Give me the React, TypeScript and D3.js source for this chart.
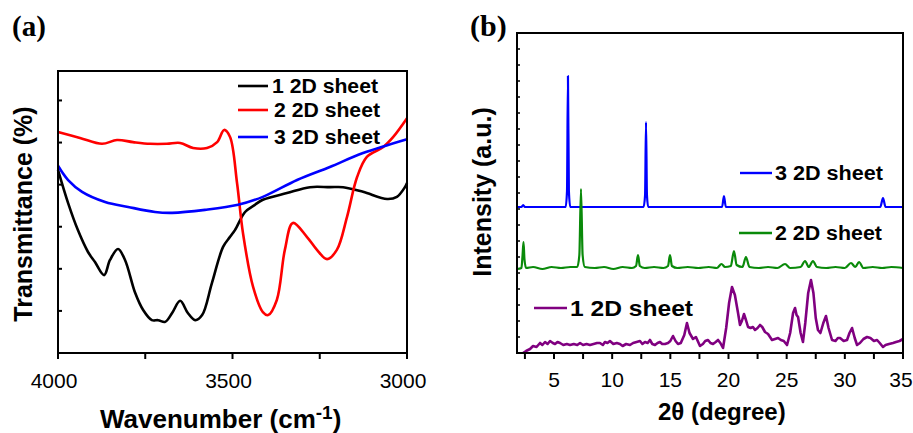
import React from 'react';
import * as d3 from 'd3';

// ---------- Panel (a): FTIR ----------
const ftirWn1 = [4000, 3971, 3943, 3914, 3894, 3868, 3851, 3828, 3808, 3779, 3756, 3731, 3713, 3693, 3673, 3650, 3628, 3607, 3587, 3559, 3527, 3507, 3493, 3464, 3436, 3413, 3344, 3278, 3221, 3183, 3126, 3057, 3029, 3006, 3000];
const ftirT1 = [43.5, 35.6, 29.2, 24.0, 21.6, 18.5, 22.1, 24.7, 22.1, 14.3, 10.2, 7.8, 7.8, 7.4, 9.5, 12.4, 9.5, 7.8, 9.0, 16.6, 25.2, 27.6, 29.2, 33.5, 35.2, 36.4, 38.0, 39.4, 39.4, 39.4, 38.3, 36.6, 37.1, 39.4, 40.4];

const ftirWn2 = [4000, 3937, 3874, 3831, 3785, 3736, 3688, 3650, 3613, 3573, 3544, 3524, 3507, 3487, 3470, 3441, 3413, 3398, 3373, 3350, 3327, 3287, 3258, 3229, 3201, 3172, 3143, 3115, 3069, 3040, 3000];
const ftirT2 = [52.5, 51.1, 49.7, 50.6, 50.1, 49.7, 49.7, 49.9, 48.7, 48.7, 50.1, 53.0, 51.3, 40.4, 28.5, 15.7, 9.7, 9.0, 12.6, 24.5, 30.9, 27.6, 24.5, 22.3, 24.5, 32.3, 41.8, 46.6, 48.9, 51.3, 55.8];

const ftirWn3 = [4000, 3971, 3931, 3865, 3799, 3722, 3673, 3579, 3484, 3413, 3315, 3221, 3126, 3000];
const ftirT3 = [44.5, 41.1, 38.3, 35.9, 34.7, 33.5, 33.3, 34.0, 35.2, 37.1, 41.1, 44.2, 47.5, 50.8];

const ftirXTicks = [4000, 3750, 3500, 3250, 3000];
const ftirXLabels = [4000, 3500, 3000];
const ftirYTicks = [10, 20, 30, 40, 50, 60];
const legendLabelsA = ['1 2D sheet', '2 2D sheet', '3 2D sheet'];

// ---------- Panel (b): XRD ----------
const xrdTh3 = [1.82, 2.2, 2.35, 2.5, 6.0, 6.12, 6.2, 6.28, 6.4, 12.7, 12.83, 12.91, 12.99, 13.1, 19.45, 19.61, 19.77, 33.05, 33.28, 33.5, 35];
const xrdI3 = [146, 146, 148, 146, 146, 162, 277, 162, 146, 146, 158, 231, 158, 146, 146, 157, 146, 146, 155, 146, 146];

const xrdTh2 = [1.82, 2.2, 2.3, 2.38, 2.46, 2.6, 3.2, 4.0, 4.8, 5.6, 6.4, 7.0, 7.18, 7.32, 7.46, 7.65, 8.5, 9.3, 10.1, 10.9, 11.7, 12.05, 12.22, 12.38, 12.8, 13.6, 14.4, 14.8, 14.97, 15.14, 15.6, 16.5, 17.4, 18.3, 19.0, 19.4, 19.7, 20.2, 20.47, 20.7, 21.2, 21.5, 21.8, 22.6, 23.4, 24.2, 24.86, 25.3, 26.2, 26.58, 26.9, 27.26, 27.6, 28.4, 29.2, 30.0, 30.53, 30.9, 31.22, 31.6, 32.4, 33.2, 34.0, 35];
const xrdI2 = [84, 85, 98, 111, 94, 85, 86, 84, 86, 85, 86, 86, 98, 164, 98, 86, 85, 86, 84, 86, 85, 87, 98, 87, 85, 86, 85, 87, 98, 87, 85, 86, 85, 86, 85, 89, 86, 87, 102, 88, 86, 96, 86, 85, 86, 85, 89, 85, 86, 92, 86, 92, 86, 85, 86, 85, 90, 86, 91, 85, 86, 85, 86, 85];

// [2θ, intensity] pairs for the 1 2D sheet pattern
const xrdSheet1: [number, number][] = [
  [2.34, 0], [2.6, 2], [2.94, 4], [3.2, 7], [3.5, 6], [3.8, 10], [4.0, 8], [4.23, 11], [4.45, 9], [4.66, 12],
  [4.9, 10], [5.09, 9], [5.3, 11], [5.52, 10], [5.8, 8], [6.1, 9], [6.38, 8], [6.7, 9], [7.0, 8], [7.24, 10],
  [7.5, 8], [7.8, 9], [8.09, 8], [8.4, 9], [8.7, 10], [8.95, 10], [9.2, 8], [9.38, 11], [9.6, 10], [9.81, 12],
  [10.1, 9], [10.4, 10], [10.67, 9], [10.9, 7], [11.2, 9], [11.53, 8], [11.8, 10], [12.1, 11], [12.39, 12], [12.6, 9],
  [12.82, 11], [13.05, 10], [13.25, 13], [13.45, 9], [13.68, 8], [13.9, 10], [14.11, 11], [14.3, 9], [14.54, 9], [14.8, 10],
  [15.0, 12], [15.23, 17], [15.45, 12], [15.66, 9], [15.9, 10], [16.2, 18], [16.43, 30], [16.65, 20], [16.95, 14], [17.2, 16],
  [17.55, 7], [17.8, 9], [18.0, 12], [18.24, 13], [18.45, 10], [18.67, 9], [18.9, 11], [19.1, 13], [19.3, 10], [19.53, 5],
  [19.8, 25], [20.05, 50], [20.3, 66], [20.55, 58], [20.82, 40], [20.99, 28], [21.15, 32], [21.33, 39], [21.5, 33], [21.68, 26],
  [21.9, 25], [22.1, 26], [22.28, 23], [22.5, 25], [22.71, 28], [22.9, 26], [23.14, 21], [23.4, 19], [23.74, 13], [24.0, 14],
  [24.26, 15], [24.5, 13], [24.75, 12], [25.03, 8], [25.3, 20], [25.55, 40], [25.72, 45], [25.85, 38], [25.98, 36], [26.2, 20],
  [26.4, 11], [26.6, 30], [26.85, 60], [27.09, 73], [27.3, 60], [27.5, 35], [27.69, 23], [27.9, 20], [28.15, 30], [28.38, 37],
  [28.6, 25], [28.9, 13], [29.2, 12], [29.4, 15], [29.59, 15], [29.9, 12], [30.19, 13], [30.4, 20], [30.62, 25], [30.85, 15],
  [31.05, 8], [31.3, 10], [31.6, 14], [31.91, 16], [32.2, 15], [32.5, 12], [32.77, 13], [33.0, 10], [33.28, 6], [33.5, 8],
  [33.8, 9], [34.14, 10], [34.4, 11], [34.7, 12], [35.0, 14],
];

const xrdXTicks = [2.5, 5, 7.5, 10, 12.5, 15, 17.5, 20, 22.5, 25, 27.5, 30, 32.5, 35];
const xrdXLabels = [5, 10, 15, 20, 25, 30, 35];
const xrdYTicks = d3.range(16, 320, 16);
const legendLabelsB = ['3 2D sheet', '2 2D sheet', '1 2D sheet'];

const SANS = "'Liberation Sans', Arial, Helvetica, sans-serif";
const SERIF = "'Liberation Serif', 'Times New Roman', serif";

export default function App() {
  const xA = d3.scaleLinear().domain([4000, 3000]).range([58, 407]);
  const yA = d3.scaleLinear().domain([0, 67]).range([353, 71]);
  const xB = d3.scaleLinear().domain([1.82, 35]).range([517, 903]);
  const yB = d3.scaleLinear().domain([0, 320]).range([353, 33]);

  const pathA = (xs: number[], ys: number[]) =>
    d3.line<number>()
      .x((_, i) => xA(xs[i]))
      .y((d) => yA(d))
      .curve(d3.curveCatmullRom.alpha(0.5))(ys) || '';
  const pathB = (xs: number[], ys: number[]) =>
    d3.line<number>()
      .x((_, i) => xB(xs[i]))
      .y((d) => yB(d))
      .curve(d3.curveMonotoneX)(ys) || '';
  const pathB1 =
    d3.line<[number, number]>()
      .x((d) => xB(d[0]))
      .y((d) => yB(d[1]))
      .curve(d3.curveLinear)(xrdSheet1) || '';

  const colorsA = ['#000000', '#ff0000', '#0000ff'];
  const seriesA = [
    { xs: ftirWn1, ys: ftirT1 },
    { xs: ftirWn2, ys: ftirT2 },
    { xs: ftirWn3, ys: ftirT3 },
  ];
  const legendA = [
    { lineY: 86, baseY: 93, lx1: 238, lx2: 268, tx: 272, tw: 106 },
    { lineY: 110, baseY: 117, lx1: 238, lx2: 268, tx: 274, tw: 106 },
    { lineY: 137, baseY: 144, lx1: 238, lx2: 268, tx: 274, tw: 106 },
  ];

  const colorsB = ['#0000ff', '#0a8a0a', '#800080'];
  const legendB = [
    { lineY: 173, baseY: 180, lx1: 740, lx2: 772, tx: 775, tw: 108, fs: 20 },
    { lineY: 233, baseY: 240, lx1: 739, lx2: 772, tx: 775, tw: 107, fs: 20 },
    { lineY: 308, baseY: 316, lx1: 534, lx2: 567, tx: 570, tw: 123, fs: 22 },
  ];

  return (
    <svg width={913} height={433} style={{ position: 'absolute', left: 0, top: 0, background: '#fff' }}>
      {/* ---------- Panel (a) ---------- */}
      <text x={12} y={36} fontFamily={SERIF} fontWeight="bold" fontSize={29}>(a)</text>
      {seriesA.map((s, i) => (
        <path key={i} d={pathA(s.xs, s.ys)} fill="none" stroke={colorsA[i]} strokeWidth={2.6} strokeLinejoin="round" />
      ))}
      <rect x={58} y={71} width={349} height={282} fill="none" stroke="#000" strokeWidth={2} />
      {ftirXTicks.map((t) => (
        <line key={t} x1={xA(t)} x2={xA(t)} y1={353} y2={359} stroke="#000" strokeWidth={2} />
      ))}
      {ftirYTicks.map((t) => (
        <line key={t} x1={58} x2={62} y1={yA(t)} y2={yA(t)} stroke="#000" strokeWidth={2} />
      ))}
      {ftirXLabels.map((t) => (
        <text key={t} x={xA(t) - 4} y={388} textAnchor="middle" fontFamily={SANS} fontSize={21}>{t}</text>
      ))}
      <text x={100} y={428} fontFamily={SANS} fontWeight="bold" fontSize={26}>
        Wavenumber (cm<tspan fontSize={19} dy={-9}>-1</tspan><tspan dy={9}>)</tspan>
      </text>
      <text transform="translate(32,214) rotate(-90)" textAnchor="middle" fontFamily={SANS} fontWeight="bold" fontSize={25}>
        Transmittance (%)
      </text>
      {legendA.map((l, i) => (
        <g key={i}>
          <line x1={l.lx1} x2={l.lx2} y1={l.lineY} y2={l.lineY} stroke={colorsA[i]} strokeWidth={2.6} />
          <text x={l.tx} y={l.baseY} fontFamily={SANS} fontWeight="bold" fontSize={20} textLength={l.tw} lengthAdjust="spacingAndGlyphs">
            {legendLabelsA[i]}
          </text>
        </g>
      ))}

      {/* ---------- Panel (b) ---------- */}
      <text x={470} y={36} fontFamily={SERIF} fontWeight="bold" fontSize={30}>(b)</text>
      <path d={pathB(xrdTh3, xrdI3)} fill="none" stroke={colorsB[0]} strokeWidth={2.2} strokeLinejoin="round" />
      <path d={pathB(xrdTh2, xrdI2)} fill="none" stroke={colorsB[1]} strokeWidth={2.2} strokeLinejoin="round" />
      <path d={pathB1} fill="none" stroke={colorsB[2]} strokeWidth={2.6} strokeLinejoin="round" />
      <rect x={517} y={33} width={386} height={320} fill="none" stroke="#000" strokeWidth={2} />
      {xrdXTicks.map((t) => (
        <line key={t} x1={xB(t)} x2={xB(t)} y1={353} y2={359} stroke="#000" strokeWidth={2} />
      ))}
      {xrdYTicks.map((t) => (
        <line key={t} x1={517} x2={520} y1={yB(t)} y2={yB(t)} stroke="#000" strokeWidth={1.5} />
      ))}
      {xrdXLabels.map((t) => (
        <text key={t} x={t === 35 ? xB(t) - 2 : xB(t)} y={387} textAnchor="middle" fontFamily={SANS} fontSize={21}>{t}</text>
      ))}
      <text x={658} y={420} fontFamily={SANS} fontWeight="bold" fontSize={24}>2θ (degree)</text>
      <text transform="translate(491,192) rotate(-90)" textAnchor="middle" fontFamily={SANS} fontWeight="bold" fontSize={25}>
        Intensity (a.u.)
      </text>
      {legendB.map((l, i) => (
        <g key={i}>
          <line x1={l.lx1} x2={l.lx2} y1={l.lineY} y2={l.lineY} stroke={colorsB[i]} strokeWidth={2.4} />
          <text x={l.tx} y={l.baseY} fontFamily={SANS} fontWeight="bold" fontSize={l.fs} textLength={l.tw} lengthAdjust="spacingAndGlyphs">
            {legendLabelsB[i]}
          </text>
        </g>
      ))}
    </svg>
  );
}
